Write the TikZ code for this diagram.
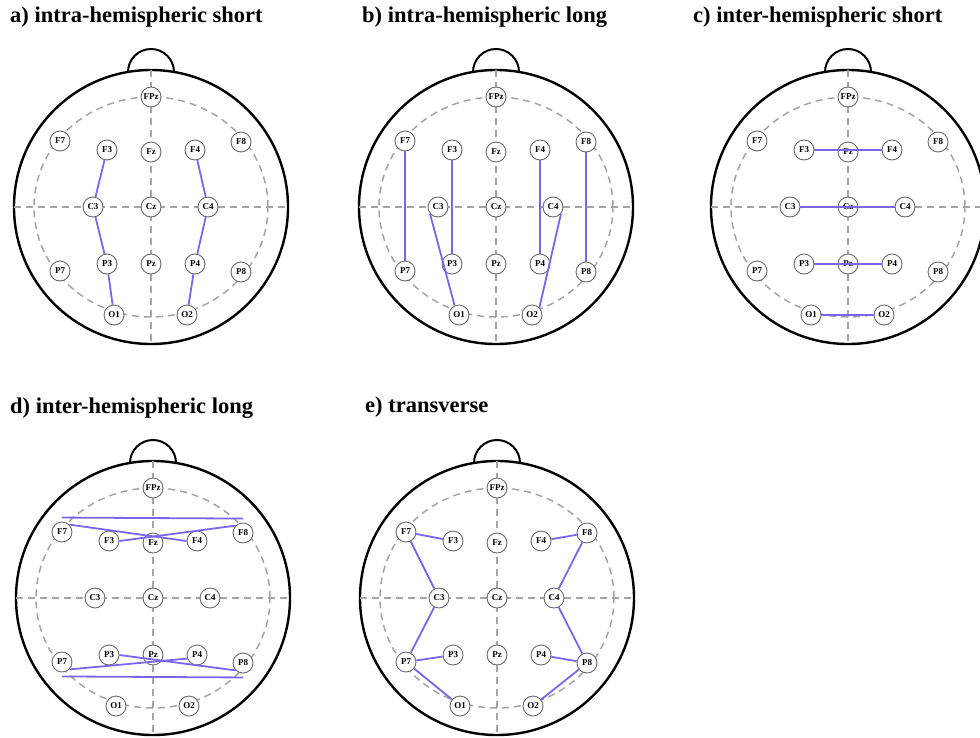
\documentclass[tikz,border=0pt]{standalone}
\usepackage{fontspec}
\setmainfont{Liberation Serif}
\definecolor{conn}{RGB}{122,102,235}
\definecolor{dashg}{RGB}{165,165,165}
\definecolor{elg}{RGB}{105,105,105}
\tikzset{
  headline/.style={line width=2.4pt, black},
  guide/.style={dashg, line width=1.5pt, dash pattern=on 7pt off 5pt},
  electrode/.style={circle, draw=elg, line width=0.9pt, fill=white, minimum size=20pt, inner sep=0pt, font=\fontsize{9}{9}\selectfont\bfseries},
  link/.style={conn, line width=1.8pt},
  paneltitle/.style={anchor=base west, inner sep=0pt, font=\fontsize{22.5}{26}\selectfont\bfseries}
}
\newcommand\eegpanel[3]{%
  \begin{scope}[shift={(#1,#2)}]
    \draw[headline] (0,0) circle[radius=137pt];
    \draw[headline, line width=2pt] (-23,-135) arc[start angle=180, end angle=0, radius=23pt];
    \draw[guide] (0,0) ellipse[x radius=117pt, y radius=110pt];
    \draw[guide] (-137,0) -- (137,0);
    \draw[guide] (0,-137) -- (0,137);
    \foreach \n/\x/\y in {FPz/0/-110, F7/-91/-66, F3/-44/-57, Fz/0/-55, F4/44/-57, F8/90/-65,
      C3/-58/0, Cz/0/0, C4/57/0, P7/-91/64, P3/-44/57, Pz/0/57, P4/44/57, P8/90/65,
      O1/-37/108, O2/36/108}
      \node[electrode] (#3\n) at (\x,\y) {\n};
  \end{scope}}
\begin{document}
\begin{tikzpicture}[x=1pt, y=-1pt]
  \clip (0,0) rectangle (980,737);
  \fill[white] (0,0) rectangle (980,737);
  % titles
  \node[paneltitle] (ta) at (10,22) {a) intra-hemispheric short};
  \node[paneltitle] (tb) at (362,22) {b) intra-hemispheric long};
  \node[paneltitle] (tc) at (693,22) {c) inter-hemispheric short};
  \node[paneltitle] (td) at (10,413) {d) inter-hemispheric long};
  \node[paneltitle] (te) at (365,412) {e) transverse};
  % heads
  \eegpanel{151}{207}{a}
  \eegpanel{496}{207}{b}
  \eegpanel{848}{207}{c}
  \eegpanel{153}{598}{d}
  \eegpanel{497}{598}{e}
  % a) intra-hemispheric short
  \draw[link] (aF3) -- (aC3);
  \draw[link] (aC3) -- (aP3);
  \draw[link] (aP3) -- (aO1);
  \draw[link] (aF4) -- (aC4);
  \draw[link] (aC4) -- (aP4);
  \draw[link] (aP4) -- (aO2);
  % b) intra-hemispheric long
  \draw[link] (bF7) -- (bP7);
  \draw[link] (bF3) -- (bP3);
  \draw[link] (bC3.220) -- (bO1.115);
  \draw[link] (bF4) -- (bP4);
  \draw[link] (bC4.320) -- (bO2.45);
  \draw[link] (bF8) -- (bP8);
  % c) inter-hemispheric short
  \draw[link] (cF3) -- (cF4);
  \draw[link] (cC3) -- (cC4);
  \draw[link] (cP3) -- (cP4);
  \draw[link] (cO1) -- (cO2);
  % d) inter-hemispheric long
  \draw[link] ([yshift=4pt]dF7.north) -- ([yshift=4pt]dF8.north);
  \draw[link] (dF7.north east) -- (dF4.west);
  \draw[link] (dF3.east) -- (dF8.north west);
  \draw[link] ([yshift=-4pt]dP7.south) -- ([yshift=-4pt]dP8.south);
  \draw[link] (dP7.south east) -- (dP4.200);
  \draw[link] (dP3.east) -- (dP8.south west);
  % e) transverse
  \draw[link] (eF7) -- (eF3);
  \draw[link] (eF7) -- (eC3);
  \draw[link] (eC3) -- (eP7);
  \draw[link] (eP7) -- (eP3);
  \draw[link] (eP7) -- (eO1);
  \draw[link] (eF8) -- (eF4);
  \draw[link] (eF8) -- (eC4);
  \draw[link] (eC4) -- (eP8);
  \draw[link] (eP8) -- (eP4);
  \draw[link] (eP8) -- (eO2);
\end{tikzpicture}
\end{document}
